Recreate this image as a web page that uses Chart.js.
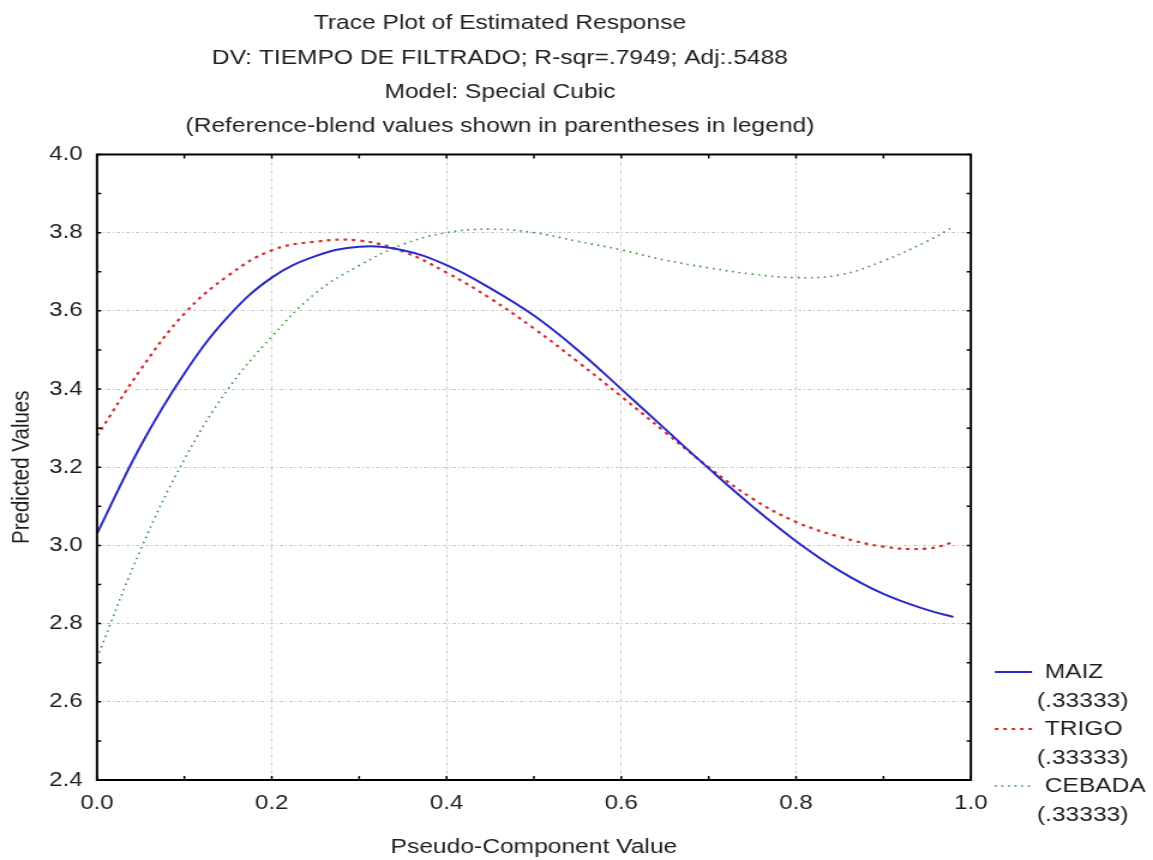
<!DOCTYPE html>
<html>
<head>
<meta charset="utf-8">
<script src="https://cdn.jsdelivr.net/npm/chart.js@4.4.1/dist/chart.umd.min.js"></script>
<style>
  html, body { margin: 0; padding: 0; background: #fff; overflow: hidden; }
  /* the reference text is drawn a bit wide, so the whole canvas is stretched sideways */
  #wrap { width: 961px; height: 860px; transform: scaleX(1.19979); transform-origin: 0 0; }
</style>
</head>
<body>
<div id="wrap"><canvas id="chart" width="961" height="860"></canvas></div>
<script>
const titleLines = [
    'Trace Plot of Estimated Response',
    'DV: TIEMPO DE FILTRADO; R-sqr=.7949; Adj:.5488',
    'Model: Special Cubic',
    '(Reference-blend values shown in parentheses in legend)'
];

const xValues = [0, 0.05, 0.1, 0.15, 0.2, 0.25, 0.3, 0.35, 0.4, 0.45, 0.5, 0.55, 0.6, 0.65, 0.7, 0.75, 0.8, 0.85, 0.9, 0.95, 0.98];
const maiz   = [3.03, 3.255, 3.44, 3.585, 3.685, 3.74, 3.764, 3.755, 3.717, 3.658, 3.588, 3.50, 3.40, 3.298, 3.197, 3.10, 3.011, 2.935, 2.876, 2.835, 2.817];
const trigo  = [3.28, 3.45, 3.593, 3.69, 3.755, 3.777, 3.78, 3.752, 3.698, 3.632, 3.555, 3.47, 3.381, 3.29, 3.20, 3.12, 3.06, 3.022, 2.997, 2.992, 3.008];
const cebada = [2.712, 2.99, 3.22, 3.40, 3.534, 3.645, 3.716, 3.77, 3.80, 3.809, 3.80, 3.778, 3.756, 3.73, 3.71, 3.694, 3.685, 3.692, 3.728, 3.778, 3.815];

const seriesNames = ['MAIZ', 'TRIGO', 'CEBADA'];
const refBlend = ['(.33333)', '(.33333)', '(.33333)'];

const xMin = 0, xMax = 1, xStep = 0.2;
const yMin = 2.4, yMax = 4.0, yStep = 0.2;
const minorStep = 0.1;

const FONT = "'Liberation Sans', Arial, Helvetica, sans-serif";
const TEXT = '#1e1e1e';

function toPoints(ys) {
    return xValues.map((x, i) => ({ x: x, y: ys[i] }));
}

// frame, inward major/minor ticks on all four sides, and the legend
const framePlugin = {
    id: 'frame',
    afterDraw(chart) {
        const ctx = chart.ctx;
        const a = chart.chartArea;
        const xs = chart.scales.x;
        const ys = chart.scales.y;
        ctx.save();
        ctx.strokeStyle = '#000';
        ctx.lineWidth = 2;
        ctx.strokeRect(a.left, a.top, a.right - a.left, a.bottom - a.top);

        ctx.lineWidth = 1.5;
        ctx.beginPath();
        for (let v = xMin; v <= xMax + 1e-9; v += minorStep) {
            const px = xs.getPixelForValue(v);
            ctx.moveTo(px, a.bottom); ctx.lineTo(px, a.bottom - 4);
            ctx.moveTo(px, a.top); ctx.lineTo(px, a.top + 4);
        }
        for (let v = yMin; v <= yMax + 1e-9; v += minorStep) {
            const py = ys.getPixelForValue(v);
            ctx.moveTo(a.left, py); ctx.lineTo(a.left + 3.5, py);
            ctx.moveTo(a.right, py); ctx.lineTo(a.right - 3.5, py);
        }
        ctx.stroke();

        // legend, two text lines per series
        ctx.font = '20.5px ' + FONT;
        ctx.fillStyle = TEXT;
        ctx.textBaseline = 'middle';
        ctx.textAlign = 'left';
        chart.data.datasets.forEach((ds, i) => {
            const y = 672 + i * 57;
            ctx.save();
            ctx.strokeStyle = ds.borderColor;
            ctx.lineWidth = ds.borderWidth;
            ctx.setLineDash(ds.borderDash || []);
            ctx.beginPath();
            ctx.moveTo(a.right + 20, y);
            ctx.lineTo(a.right + 51, y);
            ctx.stroke();
            ctx.restore();
            ctx.fillText(ds.label, a.right + 61.5, y);
            ctx.fillText(refBlend[i], a.right + 55, y + 29);
        });
        ctx.restore();
    }
};

const ctx = document.getElementById('chart').getContext('2d');
const chart = new Chart(ctx, {
    type: 'line',
    data: {
        datasets: [
            {
                label: seriesNames[0],
                data: toPoints(maiz),
                borderColor: '#2a2ac6',
                borderWidth: 2,
                pointRadius: 0,
                tension: 0.4
            },
            {
                label: seriesNames[1],
                data: toPoints(trigo),
                borderColor: '#d62d2d',
                borderWidth: 2.2,
                borderDash: [3, 4],
                pointRadius: 0,
                tension: 0.4
            },
            {
                label: seriesNames[2],
                data: toPoints(cebada),
                borderColor: '#2f8f2f',
                borderWidth: 1.6,
                borderDash: [1.5, 4],
                pointRadius: 0,
                tension: 0.4
            }
        ]
    },
    options: {
        responsive: false,
        animation: false,
        layout: {
            padding: { left: 24.17, right: 151.83, top: 0, bottom: 0 }
        },
        plugins: {
            legend: { display: false },
            tooltip: { enabled: false },
            title: {
                display: true,
                text: titleLines,
                color: TEXT,
                font: { family: FONT, size: 20.5, weight: 'normal', lineHeight: 1.673 },
                padding: { top: 6.5, bottom: 10.8 }
            }
        },
        scales: {
            x: {
                type: 'linear',
                min: xMin,
                max: xMax,
                afterFit: (scale) => { scale.height = 80; },
                ticks: {
                    stepSize: xStep,
                    color: TEXT,
                    padding: 11,
                    maxRotation: 0,
                    font: { family: FONT, size: 20 },
                    callback: (v) => Number(v).toFixed(1)
                },
                grid: { color: '#c6c6c6', lineWidth: 1, drawTicks: false },
                border: { display: false, dash: [3, 2, 1, 2] },
                title: {
                    display: true,
                    text: 'Pseudo-Component Value',
                    color: TEXT,
                    font: { family: FONT, size: 20.5 },
                    padding: { top: 0, bottom: 0 }
                }
            },
            y: {
                min: yMin,
                max: yMax,
                afterFit: (scale) => { scale.width = 56.67; },
                ticks: {
                    stepSize: yStep,
                    color: TEXT,
                    padding: 12,
                    font: { family: FONT, size: 20 },
                    callback: (v) => Number(v).toFixed(1)
                },
                grid: { color: '#c6c6c6', lineWidth: 1, drawTicks: false },
                border: { display: false, dash: [3, 2, 1, 2] },
                title: {
                    display: true,
                    text: 'Predicted Values',
                    color: TEXT,
                    font: { family: FONT, size: 20.5 },
                    padding: { top: -18.1, bottom: 0 }
                }
            }
        }
    },
    plugins: [framePlugin]
});
</script>
</body>
</html>
